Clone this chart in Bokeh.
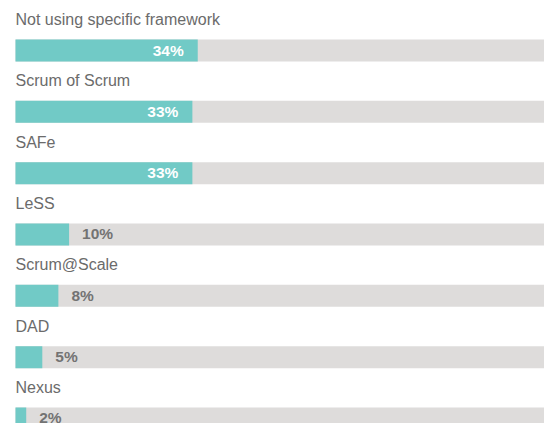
from bokeh.plotting import figure
from bokeh.models import Range1d, ColumnDataSource
from bokeh.core.properties import value
from bokeh.embed import file_html
from bokeh.resources import INLINE

categories = ["Not using specific framework", "Scrum of Scrum", "SAFe", "LeSS",
              "Scrum@Scale", "DAD", "Nexus"]
values = [34, 33, 33, 10, 8, 5, 2]
labels = [f"{v}%" for v in values]

idx = list(range(len(categories)))
inside = [v >= 20 for v in values]

src = ColumnDataSource(dict(y=idx, v=values, cat=categories, lab=labels,
                            full=[100] * len(values)))
src_in = ColumnDataSource(dict(y=[i for i in idx if inside[i]],
                               v=[values[i] for i in idx if inside[i]],
                               lab=[labels[i] for i in idx if inside[i]]))
src_out = ColumnDataSource(dict(y=[i for i in idx if not inside[i]],
                                v=[values[i] for i in idx if not inside[i]],
                                lab=[labels[i] for i in idx if not inside[i]]))

W, H = 544, 423
px_per = 5.36
pitch = 61.33
x0 = 15.0   # px from frame left to zero
yc0 = 50.0  # px from frame top to first bar centre

p = figure(width=W, height=H, output_backend="svg", toolbar_location=None,
           x_range=Range1d(-x0 / px_per, (W - x0) / px_per),
           y_range=Range1d((H - yc0) / pitch, -yc0 / pitch),
           min_border=0, outline_line_color=None)
p.axis.visible = False
p.grid.visible = False
p.background_fill_color = "white"
p.border_fill_color = "white"

bh = 22 / pitch
p.hbar(y="y", left=0, right="full", height=bh, source=src,
       fill_color="#dedcdb", line_color=None)
p.hbar(y="y", left=0, right="v", height=bh, source=src,
       fill_color="#71cac6", line_color=None)

p.text(x=0, y="y", text="cat", source=src, y_offset=-31,
       text_align="left", text_baseline="alphabetic",
       text_font=value("Liberation Sans"), text_font_size="16px",
       text_color="#6b6b6b")

p.text(x="v", y="y", text="lab", source=src_in, x_offset=-14, y_offset=-0.5,
       text_align="right", text_baseline="alphabetic",
       text_font=value("Liberation Sans"), text_font_size="15.5px",
       text_font_style="bold", text_color="white")
p.text(x="v", y="y", text="lab", source=src_out, x_offset=13, y_offset=-0.5,
       text_align="left", text_baseline="alphabetic",
       text_font=value("Liberation Sans"), text_font_size="15.5px",
       text_font_style="bold", text_color="#737373")

open("out.html", "w").write(file_html(p, INLINE))
